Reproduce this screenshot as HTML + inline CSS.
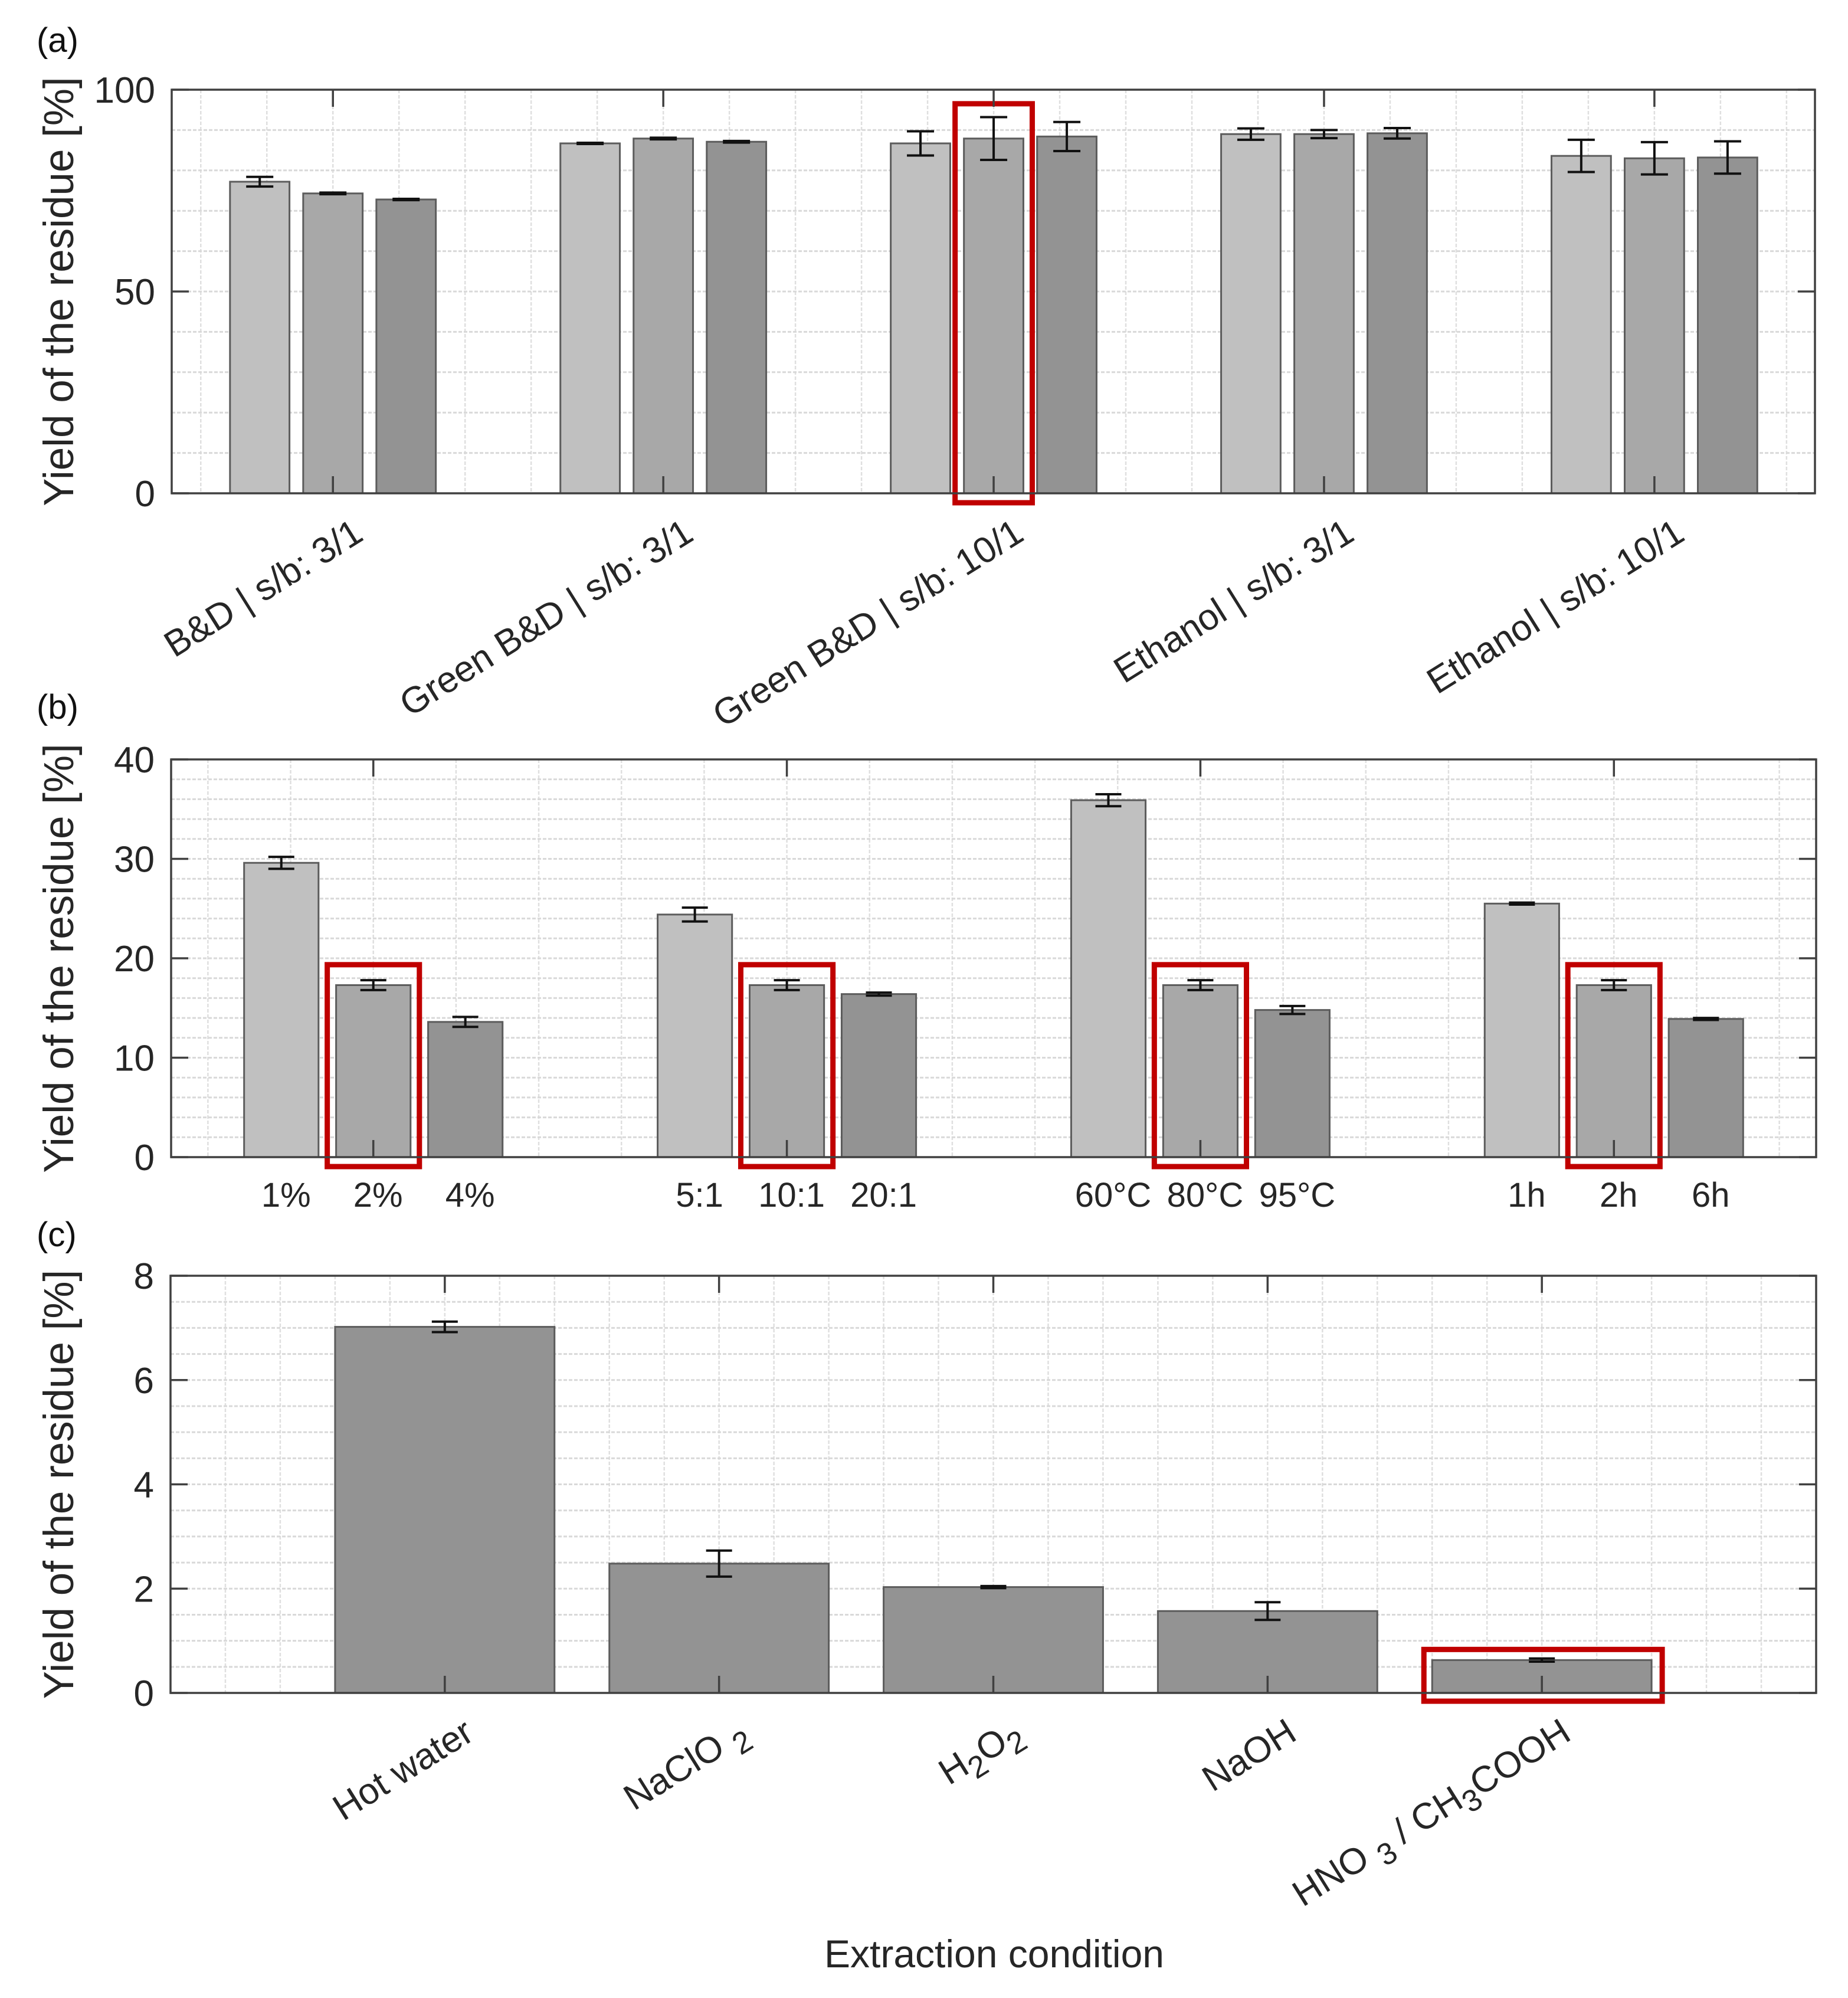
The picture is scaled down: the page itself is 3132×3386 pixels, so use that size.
<!DOCTYPE html>
<html><head><meta charset="utf-8"><style>
html,body{margin:0;padding:0;background:#fff;}
svg{display:block;font-family:"Liberation Sans",Arial,sans-serif;}
</style></head><body>
<svg id="fig" xmlns="http://www.w3.org/2000/svg" width="3132" height="3386" viewBox="0 0 3132 3386">
<rect x="0" y="0" width="3132" height="3386" fill="#fff"/>
<g id="layer"></g>
</svg>
<script>
// ---------- Panel (a) data ----------
const aCategories = ["B&D | s/b: 3/1","Green B&D | s/b: 3/1","Green B&D | s/b: 10/1","Ethanol | s/b: 3/1","Ethanol | s/b: 10/1"];
const aSeries1 = [77.2, 86.7, 86.7, 89.0, 83.6];
const aSeries2 = [74.3, 87.9, 87.9, 89.0, 83.0];
const aSeries3 = [72.8, 87.1, 88.4, 89.2, 83.2];
const aErr1 = [1.2, 0.15, 3.0, 1.4, 4.0];
const aErr2 = [0.2, 0.2, 5.3, 1.0, 4.0];
const aErr3 = [0.15, 0.2, 3.6, 1.3, 4.0];
const aYTicks = [0, 50, 100];
const aHighlight = [[2, 1]];
// ---------- Panel (b) data ----------
const bTickLabels = [["1%","2%","4%"],["5:1","10:1","20:1"],["60°C","80°C","95°C"],["1h","2h","6h"]];
const bSeries1 = [29.6, 24.4, 35.9, 25.5];
const bSeries2 = [17.3, 17.3, 17.3, 17.3];
const bSeries3 = [13.6, 16.4, 14.8, 13.9];
const bErr1 = [0.6, 0.7, 0.6, 0.1];
const bErr2 = [0.5, 0.5, 0.5, 0.5];
const bErr3 = [0.5, 0.15, 0.4, 0.1];
const bYTicks = [0, 10, 20, 30, 40];
const bHighlight = [[0,1],[1,1],[2,1],[3,1]];
// ---------- Panel (c) data ----------
const cCategories = ["Hot water","NaClO2","H2O2","NaOH","HNO3 / CH3COOH"];
const cValues = [7.02, 2.48, 2.03, 1.57, 0.63];
const cErr = [0.1, 0.25, 0.02, 0.17, 0.03];
const cYTicks = [0, 2, 4, 6, 8];
const cHighlight = [4];

const NS = "http://www.w3.org/2000/svg";
const root = document.getElementById('layer');
function mk(tag, attrs, parent){const e=document.createElementNS(NS,tag);for(const k in attrs)e.setAttribute(k,attrs[k]);(parent||root).appendChild(e);return e;}

const AX="#404040", TXT="#262626", RED="#c00000";
const COLORS=["#c0c0c0","#a8a8a8","#939393"];
const TICKFS=62, LABFS=62;

function axesFrame(P, name){
  const g=mk('g',{});
  
  
  return g;
}
function drawGrid(P,g,name){
  for(let v=P.ymin; v<=P.ymax+1e-9; v+=P.yMinor){
    const y=P.sy(v);
    const l=mk('line',{x1:P.x0,x2:P.x1,y1:y,y2:y,stroke:"#d0d0d0","stroke-width":3,"stroke-dasharray":"6 3",opacity:0.8},g);
    
    
  }
  const start=Math.ceil(P.xmin/P.xMinor-1e-9)*P.xMinor;
  for(let v=start; v<=P.xmax+1e-9; v+=P.xMinor){
    const x=P.sx(v);
    const l=mk('line',{x1:x,x2:x,y1:P.y0,y2:P.y1,stroke:"#d8d8d8","stroke-width":2.5,"stroke-dasharray":"6 3",opacity:0.8},g);
    
    
  }
}
function drawBar(P,g,xc,w,val,err,color,name){
  const x=P.sx(xc-w/2), x2=P.sx(xc+w/2), y=P.sy(val), yb=P.sy(0);
  const r=mk('rect',{x:x,y:y,width:x2-x,height:yb-y,fill:color,stroke:"#5c5c5c","stroke-width":3},g);
  
  
  const cx=P.sx(xc), yt=P.sy(val+err), ybt=P.sy(val-err), cap=P.cap;
  const e=mk('path',{d:`M${cx-cap},${yt}H${cx+cap}M${cx},${yt}V${ybt}M${cx-cap},${ybt}H${cx+cap}`,stroke:"#111","stroke-width":4,fill:"none"},g);
  
  
}
function drawBox(P,g,xc,w,val,err,name){
  const pad=15;
  const x=P.sx(xc-w/2)-pad, x2=P.sx(xc+w/2)+pad;
  const yt=Math.min(P.sy(val+err),P.sy(val))-22, yb=P.y1+16;
  const r=mk('rect',{x:x,y:yt,width:x2-x,height:yb-yt,fill:"none",stroke:RED,"stroke-width":9},g);
  
  
}
function drawAxes(P,g,name,xticks,yticks){
  const f=mk('rect',{x:P.x0,y:P.y0,width:P.x1-P.x0,height:P.y1-P.y0,fill:"none",stroke:AX,"stroke-width":3.5},g);
  
  
  yticks.forEach(v=>{
    const y=P.sy(v);
    const t=mk('path',{d:`M${P.x0},${y}h29M${P.x1},${y}h-29`,stroke:AX,"stroke-width":3.5},g);
    
    
    const l=mk('text',{x:P.x0-28,y:y+22,"text-anchor":"end","font-size":TICKFS,fill:TXT},g);
    l.textContent=v;
    
    
  });
  xticks.forEach(v=>{
    const x=P.sx(v);
    const t=mk('path',{d:`M${x},${P.y0}v29M${x},${P.y1}v-29`,stroke:AX,"stroke-width":3.5},g);
    
    
  });
  const yl=mk('text',{x:0,y:0,transform:`translate(124,${(P.y0+P.y1)/2}) rotate(-90)`,"text-anchor":"middle","font-size":71,fill:TXT},g);
  yl.textContent="Yield of the residue [%]";
  
  
}
function makeP(x0,x1,y0,y1,xmin,xmax,ymin,ymax,xMinor,yMinor,cap){
  return {x0,x1,y0,y1,xmin,xmax,ymin,ymax,xMinor,yMinor,cap,
    sx:v=>x0+(v-xmin)/(xmax-xmin)*(x1-x0),
    sy:v=>y1-(v-ymin)/(ymax-ymin)*(y1-y0)};
}
function panelLabel(txt,y,name){
  const t=mk('text',{x:62,y:y,"font-size":58,fill:"#111"});
  t.textContent=txt;
  
  
}

// ===== Panel (a) =====
(function(){
  const P=makeP(291,3076,152,836,0.512,5.486,0,100,0.2,10,23);
  const g=axesFrame(P,'panel-a');
  const series=[aSeries1,aSeries2,aSeries3], errs=[aErr1,aErr2,aErr3];
  const off=0.2215, w=0.18;
  drawGrid(P,g,'panel-a');
  aCategories.forEach((c,i)=>{
    for(let s=0;s<3;s++) drawBar(P,g,i+1+(s-1)*off,w,series[s][i],errs[s][i],COLORS[s],'bar-a-group'+(i+1)+'-s'+(s+1));
  });
  aHighlight.forEach(([gi,s])=>drawBox(P,g,gi+1+(s-1)*off,w,series[s][gi],errs[s][gi]+0.1,'highlight-box-a'));
  drawAxes(P,g,'panel-a',aCategories.map((c,i)=>i+1),aYTicks);
  aCategories.forEach((c,i)=>{
    const x=P.sx(i+1)+30, y=P.y1+38;
    const t=mk('text',{x:x,y:y,dy:"0.75em","text-anchor":"end","font-size":LABFS,fill:TXT,transform:`rotate(-32 ${x} ${y})`},g);
    t.textContent=c;
    
    
  });
  panelLabel("(a)",88,'panel-label-a');
})();

// ===== Panel (b) =====
(function(){
  const P=makeP(290,3078,1287,1961,0.511,4.489,0,40,0.2,2,22);
  const g=axesFrame(P,'panel-b');
  const series=[bSeries1,bSeries2,bSeries3], errs=[bErr1,bErr2,bErr3];
  const off=0.2225, w=0.18;
  drawGrid(P,g,'panel-b');
  bTickLabels.forEach((labs,i)=>{
    for(let s=0;s<3;s++) drawBar(P,g,i+1+(s-1)*off,w,series[s][i],errs[s][i],COLORS[s],'bar-b-group'+(i+1)+'-s'+(s+1));
  });
  bHighlight.forEach(([gi,s])=>drawBox(P,g,gi+1+(s-1)*off,w,series[s][gi],errs[s][gi]+0.25,'highlight-box-b'));
  drawAxes(P,g,'panel-b',bTickLabels.map((c,i)=>i+1),bYTicks);
  bTickLabels.forEach((labs,i)=>{
    labs.forEach((lab,s)=>{
      const t=mk('text',{x:P.sx(i+1+(s-1)*off)+8,y:P.y1+84,"text-anchor":"middle","font-size":58,fill:TXT},g);
      t.textContent=lab;
      
      
    });
  });
  panelLabel("(b)",1218,'panel-label-b');
})();

// ===== Panel (c) =====
(function(){
  const P=makeP(289,3078,2162,2869,0,6,0,8,0.2,0.5,22);
  const g=axesFrame(P,'panel-c');
  drawGrid(P,g,'panel-c');
  cValues.forEach((v,i)=>drawBar(P,g,i+1,0.8,v,cErr[i],COLORS[2],'bar-c-'+(i+1)));
  cHighlight.forEach(i=>{
    const x=P.sx(i+1-0.4)-14, x2=P.sx(i+1+0.4)+18, yt=P.sy(cValues[i])-18, yb=P.y1+14;
    const r=mk('rect',{x:x,y:yt,width:x2-x,height:yb-yt,fill:"none",stroke:RED,"stroke-width":9},g);
    
    
  });
  drawAxes(P,g,'panel-c',cValues.map((v,i)=>i+1),cYTicks);
  const subs={"NaClO2":[["NaClO ",0],["2",1]],"H2O2":[["H",0],["2",1],["O",0],["2",1]],"HNO3 / CH3COOH":[["HNO ",0],["3",1],[" / CH",0],["3",1],["COOH",0]]};
  cCategories.forEach((c,i)=>{
    const x=P.sx(i+1)+28, y=P.y1+38;
    const t=mk('text',{x:x,y:y,dy:"0.75em","text-anchor":"end","font-size":LABFS,fill:TXT,transform:`rotate(-32 ${x} ${y})`},g);
    if(subs[c]){
      subs[c].forEach(([s,isSub])=>{
        const ts=mk('tspan',isSub?{"baseline-shift":"-30%","font-size":52}:{},t);
        ts.textContent=s;
      });
    } else t.textContent=c;
    
    
  });
  const xt=mk('text',{x:1685,y:3334,"text-anchor":"middle","font-size":66,fill:TXT},g);
  xt.textContent="Extraction condition";
  
  
  panelLabel("(c)",2112,'panel-label-c');
})();
</script>
</body></html>
